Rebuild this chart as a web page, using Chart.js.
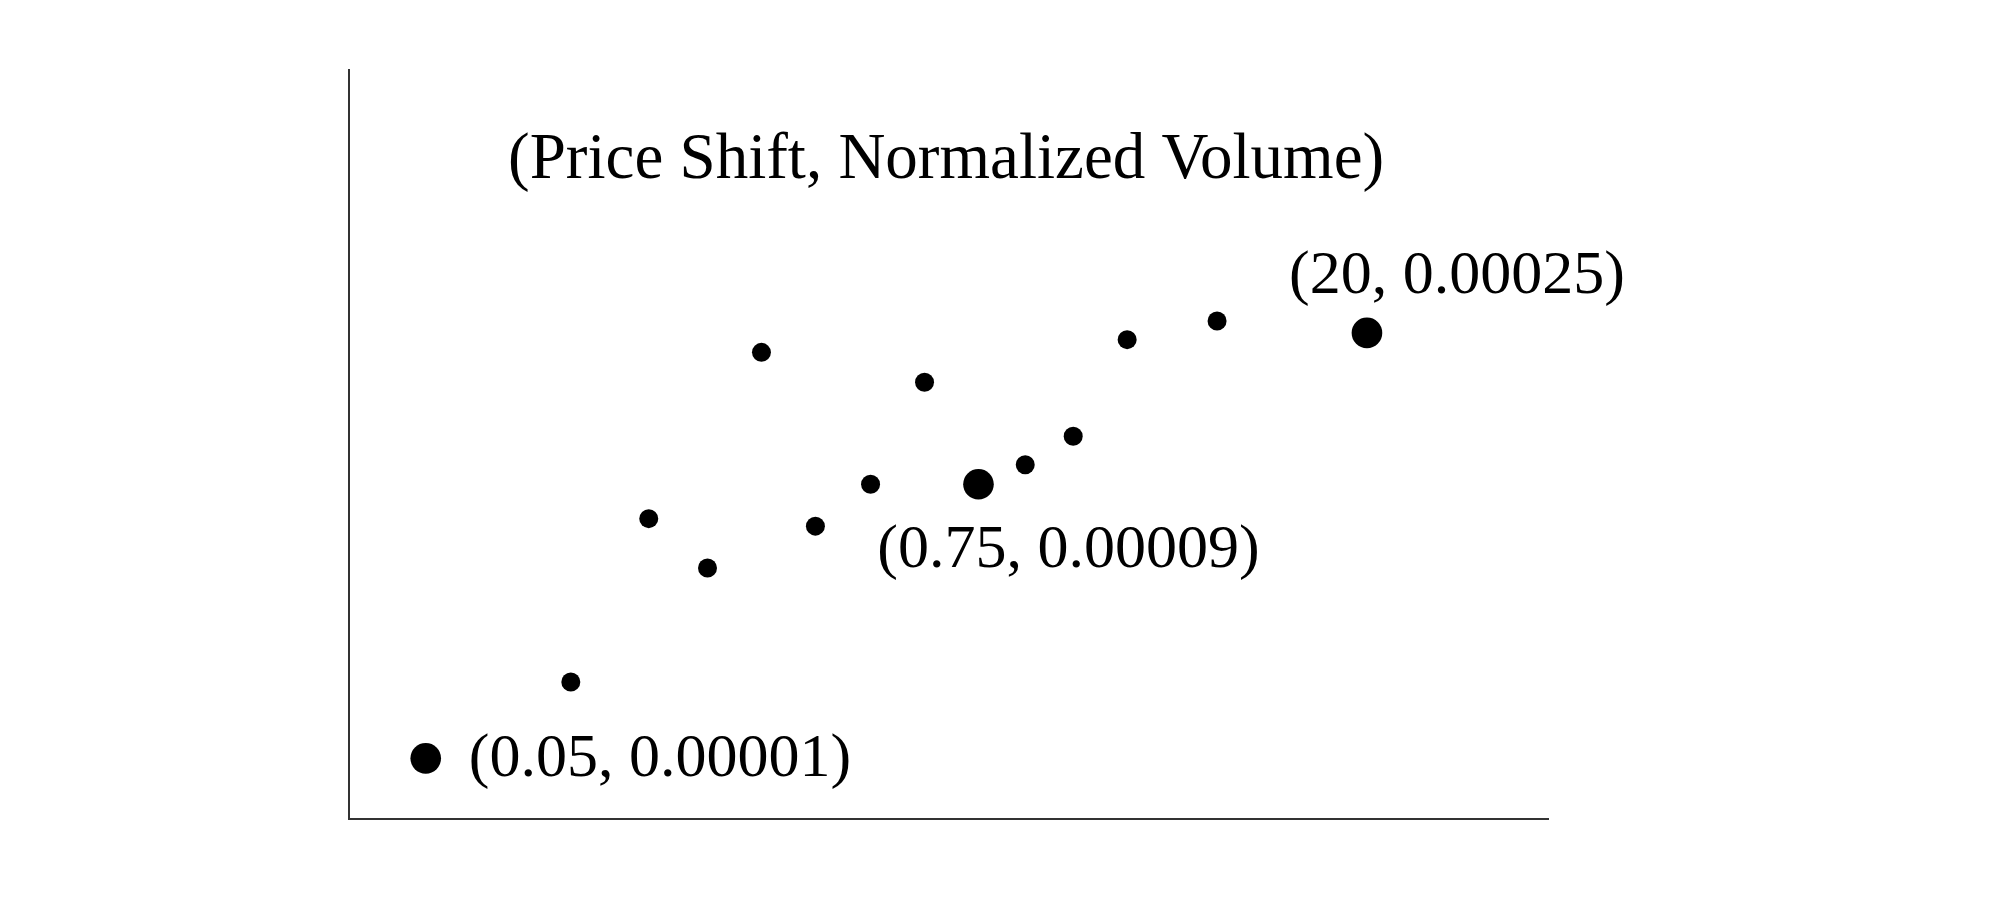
<!DOCTYPE html>
<html>
<head>
<meta charset="utf-8">
<script src="https://cdn.jsdelivr.net/npm/chart.js@4.4.1/dist/chart.umd.min.js"></script>
<style>
  html, body { margin: 0; padding: 0; background: #ffffff; }
  #wrap { width: 2000px; height: 907px; }
</style>
</head>
<body>
<div id="wrap"><canvas id="c" width="2000" height="907"></canvas></div>
<script>
// ---- data (arbitrary axis units 0-100) ----
const priceShift = [6.4, 18.5, 25.0, 29.9, 34.4, 38.9, 43.5, 48.0, 52.5, 56.4, 60.4, 64.9, 72.4, 84.9];
const normVolume = [8.1, 18.3, 40.1, 33.5, 62.3, 39.1, 44.7, 58.3, 44.7, 47.3, 51.1, 64.0, 66.5, 64.9];
const annotatedIdx = [0, 8, 13];
const annotationText = ["(0.05, 0.00001)", "(0.75, 0.00009)", "(20, 0.00025)"];
const chartTitle = "(Price Shift, Normalized Volume)";

const LABEL_FONT = '62px "Liberation Serif", "Times New Roman", serif';
const TITLE_FONT = '65px "Liberation Serif", "Times New Roman", serif';

const regularPts = priceShift.map((x, i) => ({x, y: normVolume[i]})).filter((_, i) => !annotatedIdx.includes(i));
const annotatedPts = annotatedIdx.map(i => ({x: priceShift[i], y: normVolume[i]}));

const labelPlugin = {
  id: 'labels',
  afterDatasetsDraw(chart) {
    const ctx = chart.ctx;
    const meta = chart.getDatasetMeta(1);
    const offsets = [
      {dx: 43, dy: 1, align: 'left'},
      {dx: 90, dy: 67, align: 'center'},
      {dx: 90, dy: -56, align: 'center'}
    ];
    ctx.save();
    ctx.fillStyle = '#000';
    ctx.font = LABEL_FONT;
    ctx.textBaseline = 'middle';
    meta.data.forEach((pt, k) => {
      const o = offsets[k];
      ctx.textAlign = o.align;
      ctx.fillText(annotationText[k], pt.x + o.dx, pt.y + o.dy);
    });
    // title inside the plot area
    const xs = chart.scales.x, ys = chart.scales.y;
    ctx.font = TITLE_FONT;
    ctx.textAlign = 'center';
    ctx.fillText(chartTitle, xs.getPixelForValue(49.8), ys.getPixelForValue(87.8));
    ctx.restore();
  }
};

new Chart(document.getElementById('c'), {
  type: 'scatter',
  data: {
    datasets: [
      { data: regularPts, pointRadius: 9.5, pointHoverRadius: 9.5, backgroundColor: '#000', borderWidth: 0, clip: false },
      { data: annotatedPts, pointRadius: 15.3, pointHoverRadius: 15.3, backgroundColor: '#000', borderWidth: 0, clip: false }
    ]
  },
  options: {
    responsive: false,
    animation: false,
    events: [],
    layout: { padding: { left: 349, right: 452, top: 70, bottom: 88 } },
    plugins: { legend: { display: false }, tooltip: { enabled: false }, title: { display: false } },
    scales: {
      x: {
        type: 'linear', min: 0, max: 100,
        ticks: { display: false },
        grid: { display: false, drawTicks: false },
        border: { display: true, color: '#333333', width: 2 }
      },
      y: {
        type: 'linear', min: 0, max: 100,
        ticks: { display: false },
        grid: { display: false, drawTicks: false },
        border: { display: true, color: '#333333', width: 2 }
      }
    }
  },
  plugins: [labelPlugin]
});
</script>
</body>
</html>
